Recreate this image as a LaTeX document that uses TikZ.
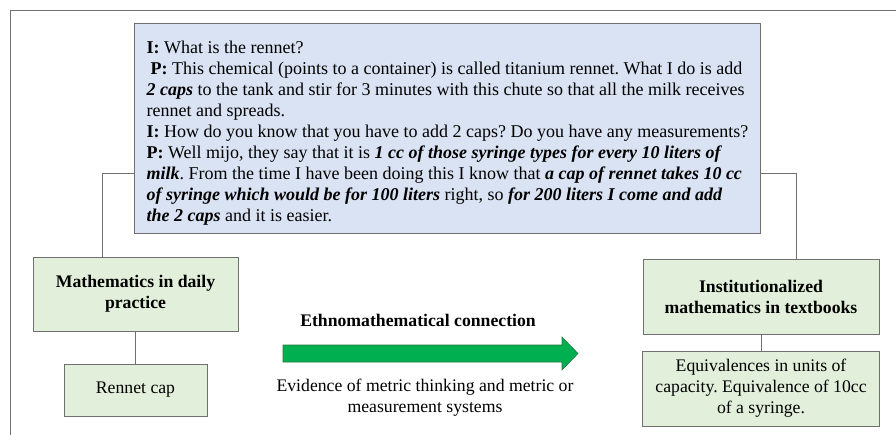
\documentclass[tikz,border=0pt]{standalone}
\usepackage{fontspec}
\setmainfont{Liberation Serif}
\frenchspacing
\definecolor{bluefill}{RGB}{218,227,243}
\definecolor{greenfill}{RGB}{226,239,218}
\definecolor{edgegray}{RGB}{112,112,112}
\definecolor{arrowgreen}{RGB}{0,176,80}
\definecolor{arrowedge}{RGB}{40,120,60}
\newcommand{\fs}{\fontsize{17.7}{21}\selectfont}
\newcommand{\fb}{\fontsize{18}{21}\selectfont}
\begin{document}
\begin{tikzpicture}[x=1pt,y=-1pt,
  box/.style={draw=edgegray,line width=0.9pt,inner sep=0pt,align=center,font=\fs},
  greenbox/.style={box,fill=greenfill},
  link/.style={draw=edgegray,line width=0.9pt}]
\useasboundingbox (0,0) rectangle (896,435);
\fill[white] (0,0) rectangle (896,435);
\draw[edgegray,line width=0.8pt] (10,435) -- (10,10) -- (896,10);

\node[box,fill=bluefill,minimum width=625pt,minimum height=210pt,inner xsep=12pt,align=left,font=\fb] (talk) at (447.5,128) {%
\rule{0pt}{22pt}\textbf{I:} What is the rennet?\\
\hspace{4pt}\textbf{P:} This chemical (points to a container) is called titanium rennet. What I do is add\\
\textbf{\textit{2 caps}} to the tank and stir for 3 minutes with this chute so that all the milk receives\\
rennet and spreads.\\
\textbf{I:} How do you know that you have to add 2 caps? Do you have any measurements?\\
\textbf{P:} Well mijo, they say that it is \textbf{\textit{1 cc of those syringe types for every 10 liters of}}\\
\textbf{\textit{milk}}. From the time I have been doing this I know that \textbf{\textit{a cap of rennet takes 10 cc}}\\
\textbf{\textit{of syringe which would be for 100 liters}} right, so \textbf{\textit{for 200 liters I come and add}}\\
\textbf{\textit{the 2 caps}} and it is easier.};

\node[greenbox,minimum width=205pt,minimum height=74pt,font=\fs\bfseries] (daily) at (135.5,294) {Mathematics in daily\\practice};
\node[greenbox,minimum width=143pt,minimum height=52pt] (cap) at (135.5,390) {Rennet cap};
\node[greenbox,minimum width=236pt,minimum height=75pt,font=\fs\bfseries] (inst) at (761,296.5) {Institutionalized\\mathematics in textbooks};
\node[greenbox,minimum width=237pt,minimum height=75pt] (equiv) at (761,388.5) {Equivalences in units of\\capacity. Equivalence of 10cc\\of a syringe.};

\coordinate (lj) at (102,173);
\coordinate (rj) at (796,173);
\draw[link] (talk.west |- lj) -- (lj) -- (lj |- daily.north);
\draw[link] (talk.east |- rj) -- (rj) -- (rj |- inst.north);
\draw[link] (daily.south) -- (cap.north);
\draw[link] (inst.south) -- (equiv.north);

\node[font=\fs\bfseries] (ethno) at (418,320) {Ethnomathematical connection};
\fill[arrowgreen,draw=arrowedge,line width=0.6pt] (283,345) -- (562,345) -- (562,337) -- (578,353.5) -- (562,370) -- (562,362) -- (283,362) -- cycle;
\node[align=center,font=\fs] (evid) at (425,398) {Evidence of metric thinking and metric or\\measurement systems};
\end{tikzpicture}
\end{document}
